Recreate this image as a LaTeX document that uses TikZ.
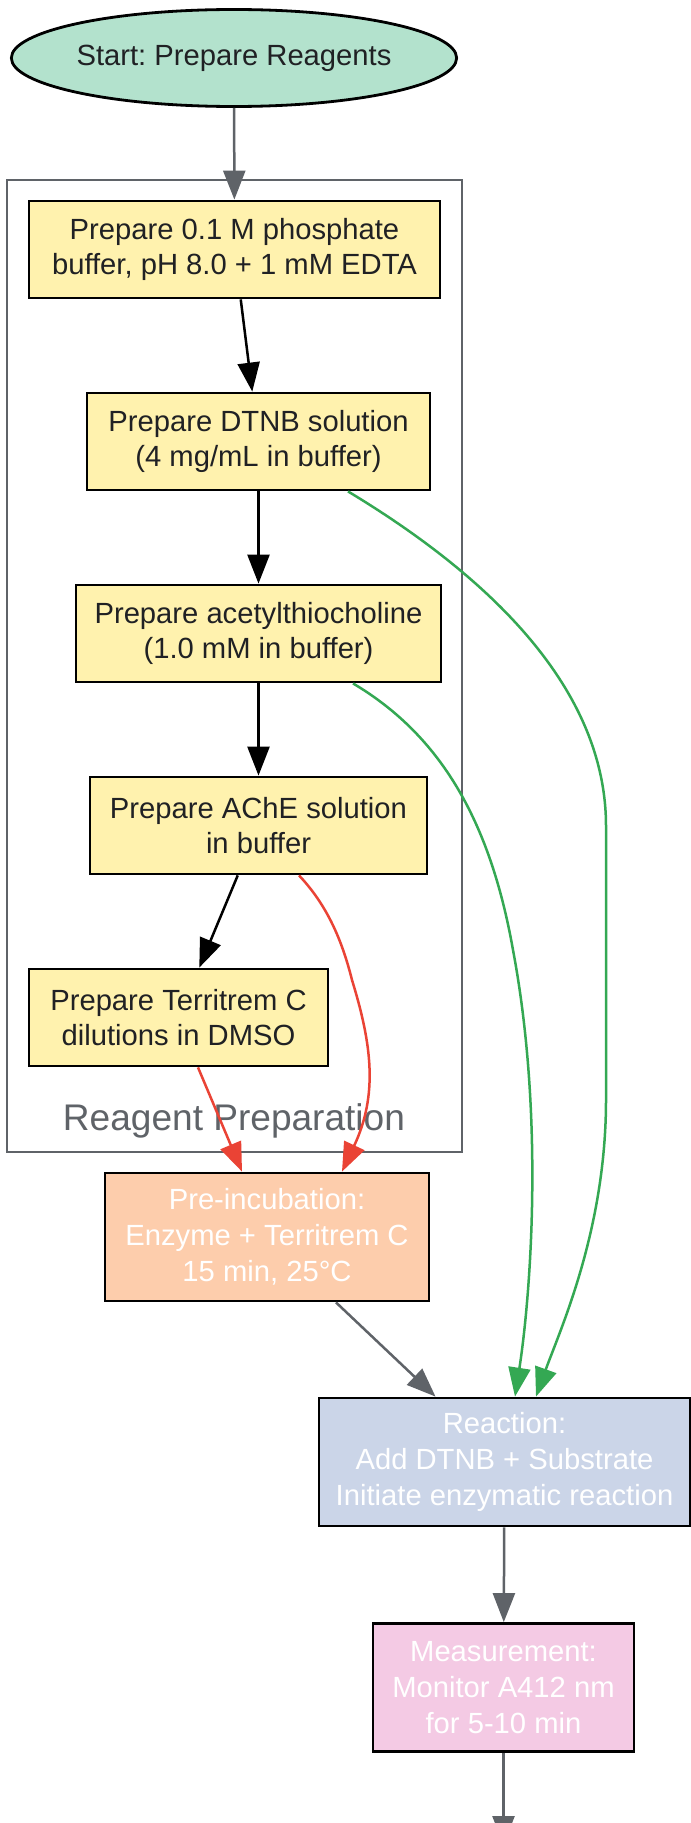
\documentclass[tikz,border=0pt]{standalone}
\usepackage{fontspec}
\setmainfont{Liberation Sans}
\frenchspacing
\usetikzlibrary{shapes.geometric,arrows.meta,calc}
\newcommand\pxu{0.75pt}
\definecolor{startfill}{HTML}{B3E2CD}
\definecolor{prepfill}{HTML}{FFF2AE}
\definecolor{incfill}{HTML}{FDCDAC}
\definecolor{reactfill}{HTML}{CBD5E8}
\definecolor{measfill}{HTML}{F4CAE4}
\definecolor{edgegray}{HTML}{5F6368}
\definecolor{edgegreen}{HTML}{34A853}
\definecolor{edgered}{HTML}{EA4335}
\definecolor{txtdark}{HTML}{202124}
\tikzset{
  nodetext/.style={font=\fontsize{21.9pt}{26.8pt}\selectfont, align=center},
  box/.style={rectangle, draw=black, line width=2.8*\pxu, inner sep=0pt, nodetext},
  prep/.style={box, fill=prepfill, text=txtdark, minimum height=97*\pxu},
  lower/.style={box, text=white, minimum height=128*\pxu},
  conn/.style={line width=2.5*\pxu, -{Triangle[length=29*\pxu, width=22*\pxu]}},
  grayconn/.style={conn, draw=edgegray},
  blackconn/.style={conn, draw=black},
  greenconn/.style={conn, draw=edgegreen},
  redconn/.style={conn, draw=edgered},
}
\begin{document}
\begin{tikzpicture}[x=0.75pt, y=-0.75pt]
\clip (0,0) rectangle (691,1823);
\fill[white] (0,0) rectangle (691,1823);
% cluster
\draw[edgegray, line width=2.6*\pxu] (7,180) rectangle (462,1152);
\node[text=edgegray, font=\fontsize{27.8pt}{33pt}\selectfont] (clabel) at (234,1121) {Reagent Preparation};
% nodes
\node[ellipse, draw=black, line width=2.8*\pxu, fill=startfill, text=txtdark, minimum width=445*\pxu, minimum height=97*\pxu, inner sep=0pt, nodetext] (start) at (234,58) {Start: Prepare Reagents};
\node[prep, minimum width=411*\pxu] (b1) at (234.5,249.5) {Prepare 0.1 M phosphate\\buffer, pH 8.0 + 1 mM EDTA};
\node[prep, minimum width=343*\pxu] (b2) at (258.5,441.5) {Prepare DTNB solution\\(4 mg/mL in buffer)};
\node[prep, minimum width=365*\pxu] (b3) at (258.5,633.5) {Prepare acetylthiocholine\\(1.0 mM in buffer)};
\node[prep, minimum width=337*\pxu] (b4) at (258.5,825.5) {Prepare AChE solution\\in buffer};
\node[prep, minimum width=299*\pxu] (b5) at (178.5,1017.5) {Prepare Territrem C\\dilutions in DMSO};
\node[lower, fill=incfill, minimum width=324*\pxu] (b6) at (267,1237) {Pre-incubation:\\Enzyme + Territrem C\\15 min, 25°C};
\node[lower, fill=reactfill, minimum width=371*\pxu] (b7) at (504.5,1462) {Reaction:\\Add DTNB + Substrate\\Initiate enzymatic reaction};
\node[lower, fill=measfill, minimum width=261*\pxu] (b8) at (503.5,1687.5) {Measurement:\\Monitor A412 nm\\for 5-10 min};
\coordinate (out) at (503.5,1845);
% connectors
\draw[grayconn] (start) -- (b1);
\draw[blackconn] (b1) -- (b2);
\draw[blackconn] (b2) -- (b3);
\draw[blackconn] (b3) -- (b4);
\draw[blackconn] (b4) -- (b5);
\draw[redconn] ($(b5.south)+(19.5,0)$) -- ($(b6.north)+(-25,0)$);
\draw[redconn] ($(b4.south)+(40.5,0)$) .. controls (327,905) and (342,940) .. (352,980) .. controls (372,1045) and (378,1095) .. ($(b6.north)+(75,0)$);
\draw[greenconn] ($(b2.south)+(89.5,0)$) .. controls (465,562) and (606,675) .. (606,826) -- (606,1100) .. controls (606,1230) and (560,1330) .. ($(b7.north)+(31.5,0)$);
\draw[greenconn] ($(b3.south)+(94.5,0)$) .. controls (440,735) and (490,820) .. (513,950) .. controls (545,1120) and (530,1300) .. ($(b7.north)+(10.5,0)$);
\draw[grayconn] (b6) -- (b7);
\draw[grayconn] (b7) -- (b8);
\draw[grayconn] (b8) -- (out);
\end{tikzpicture}
\end{document}
